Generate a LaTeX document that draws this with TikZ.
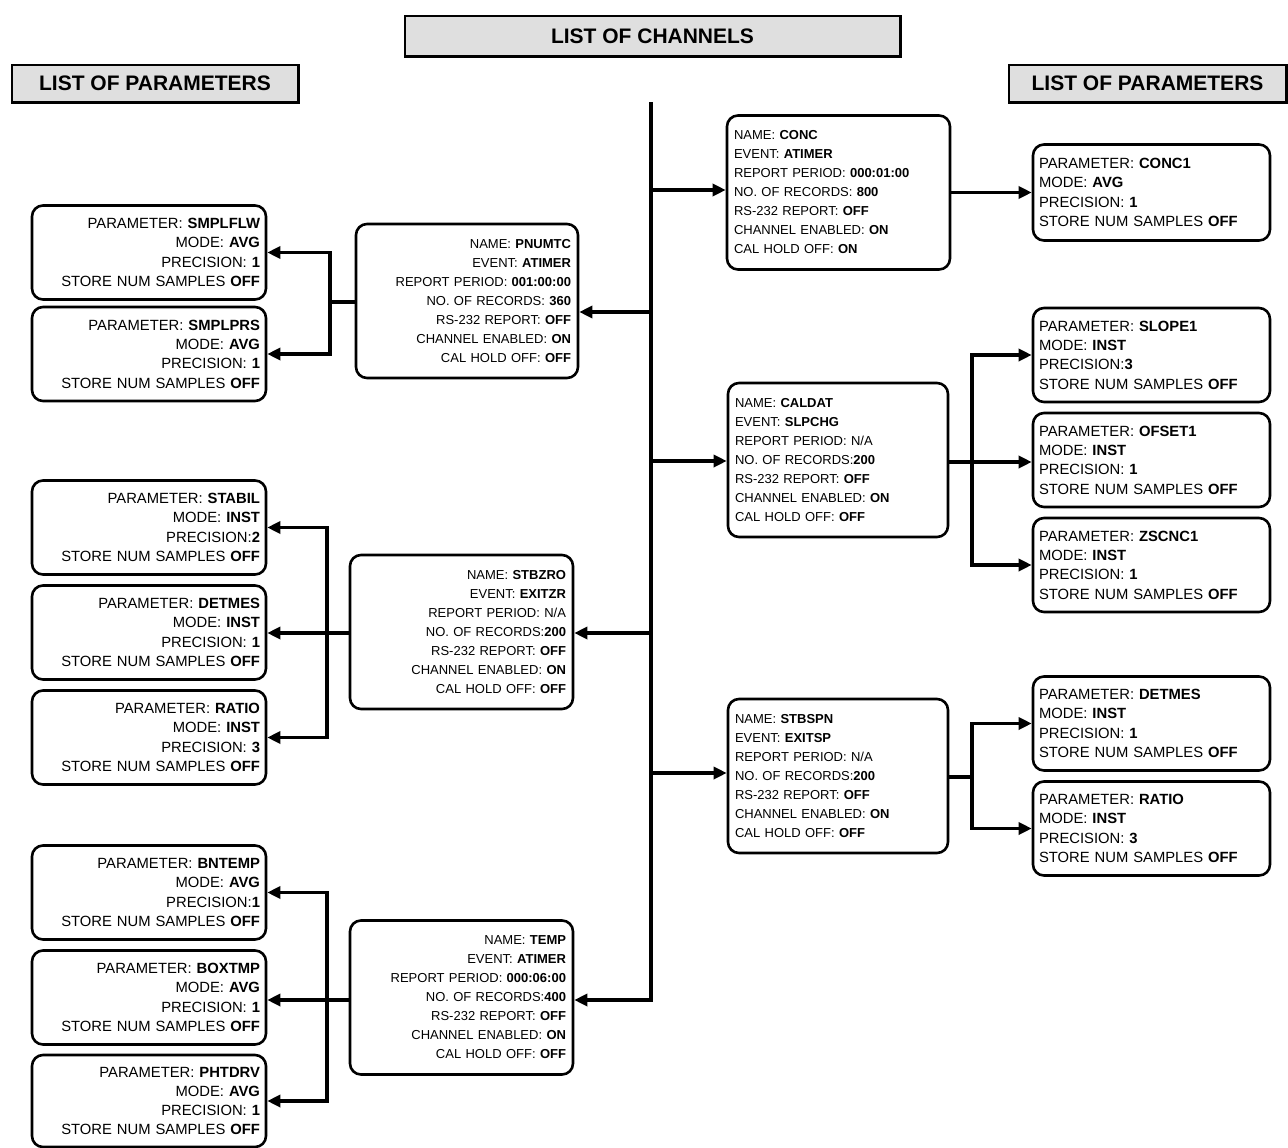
\documentclass[tikz,border=0pt]{standalone}
\usepackage{fontspec}
\setmainfont{Liberation Sans}
\usetikzlibrary{arrows.meta,calc}
\begin{document}
\begin{tikzpicture}[x=1pt,y=-1pt,
  chbox/.style={draw, line width=2.6pt, rounded corners=11pt, minimum height=154pt, inner xsep=7pt, inner ysep=0pt, text width=208pt, font=\fontsize{13}{19}\selectfont},
  chL/.style={chbox, align=left},
  chR/.style={chbox, align=right},
  pbox/.style={draw, line width=2.6pt, rounded corners=11pt, minimum height=94pt, inner xsep=6pt, inner ysep=0pt, font=\fontsize{14.8}{19.3}\selectfont},
  pL/.style={pbox, text width=225pt, align=left},
  pR/.style={pbox, text width=222pt, align=right},
  hdr/.style={draw, line width=1.6pt, fill=gray!25, inner sep=0pt, font=\bfseries\fontsize{21}{24}\selectfont},
  conn/.style={line width=3.4pt},
  arr/.style={conn, -{Triangle[length=13pt,width=12pt]}},
]
\useasboundingbox (0,0) rectangle (1288,1148);
\fill[white] (0,0) rectangle (1288,1148);

% headers
\node[hdr, minimum width=495pt, minimum height=40pt] (hch) at (652.5,36) {LIST OF CHANNELS};
\node[hdr, minimum width=286pt, minimum height=37pt] (hpl) at (155,83.5) {LIST OF PARAMETERS};
\node[hdr, minimum width=277pt, minimum height=37pt] (hpr) at (1147.5,83.5) {LIST OF PARAMETERS};
\foreach \h in {hch,hpl,hpr}{
  \draw[line width=2.8pt] (\h.north east) -- (\h.south east) -- (\h.south west);
}

% channel boxes
\node[chL, text width=209pt] (conc) at (838.5,192.5) {NAME: \textbf{CONC}\\EVENT: \textbf{ATIMER}\\REPORT PERIOD: \textbf{000:01:00}\\NO. OF RECORDS: \textbf{800}\\RS-232 REPORT: \textbf{OFF}\\CHANNEL ENABLED: \textbf{ON}\\CAL HOLD OFF: \textbf{ON}};
\node[chR] (pnumtc) at (467,301) {NAME: \textbf{PNUMTC}\\EVENT: \textbf{ATIMER}\\REPORT PERIOD: \textbf{001:00:00}\\NO. OF RECORDS: \textbf{360}\\RS-232 REPORT: \textbf{OFF}\\CHANNEL ENABLED: \textbf{ON}\\CAL HOLD OFF: \textbf{OFF}};
\node[chL, text width=206pt] (caldat) at (838,460) {NAME: \textbf{CALDAT}\\EVENT: \textbf{SLPCHG}\\REPORT PERIOD: N/A\\NO. OF RECORDS:\textbf{200}\\RS-232 REPORT: \textbf{OFF}\\CHANNEL ENABLED: \textbf{ON}\\CAL HOLD OFF: \textbf{OFF}};
\node[chR, text width=209pt] (stbzro) at (461.5,632) {NAME: \textbf{STBZRO}\\EVENT: \textbf{EXITZR}\\REPORT PERIOD: N/A\\NO. OF RECORDS:\textbf{200}\\RS-232 REPORT: \textbf{OFF}\\CHANNEL ENABLED: \textbf{ON}\\CAL HOLD OFF: \textbf{OFF}};
\node[chL, text width=206pt] (stbspn) at (838,776) {NAME: \textbf{STBSPN}\\EVENT: \textbf{EXITSP}\\REPORT PERIOD: N/A\\NO. OF RECORDS:\textbf{200}\\RS-232 REPORT: \textbf{OFF}\\CHANNEL ENABLED: \textbf{ON}\\CAL HOLD OFF: \textbf{OFF}};
\node[chR, text width=209pt] (temp) at (461.5,997.5) {NAME: \textbf{TEMP}\\EVENT: \textbf{ATIMER}\\REPORT PERIOD: \textbf{000:06:00}\\NO. OF RECORDS:\textbf{400}\\RS-232 REPORT: \textbf{OFF}\\CHANNEL ENABLED: \textbf{ON}\\CAL HOLD OFF: \textbf{OFF}};

% parameter boxes right
\node[pL, minimum height=96pt] (conc1) at (1151.5,192.5) {PARAMETER: \textbf{CONC1}\\MODE: \textbf{AVG}\\PRECISION: \textbf{1}\\STORE NUM SAMPLES \textbf{OFF}};
\node[pL] (slope1) at (1151.5,355) {PARAMETER: \textbf{SLOPE1}\\MODE: \textbf{INST}\\PRECISION:\textbf{3}\\STORE NUM SAMPLES \textbf{OFF}};
\node[pL] (ofset1) at (1151.5,460) {PARAMETER: \textbf{OFSET1}\\MODE: \textbf{INST}\\PRECISION: \textbf{1}\\STORE NUM SAMPLES \textbf{OFF}};
\node[pL] (zscnc1) at (1151.5,565) {PARAMETER: \textbf{ZSCNC1}\\MODE: \textbf{INST}\\PRECISION: \textbf{1}\\STORE NUM SAMPLES \textbf{OFF}};
\node[pL] (detmesR) at (1151.5,723.5) {PARAMETER: \textbf{DETMES}\\MODE: \textbf{INST}\\PRECISION: \textbf{1}\\STORE NUM SAMPLES \textbf{OFF}};
\node[pL] (ratioR) at (1151.5,828.5) {PARAMETER: \textbf{RATIO}\\MODE: \textbf{INST}\\PRECISION: \textbf{3}\\STORE NUM SAMPLES \textbf{OFF}};

% parameter boxes left
\node[pR] (smplflw) at (149,252.5) {PARAMETER: \textbf{SMPLFLW}\\MODE: \textbf{AVG}\\PRECISION: \textbf{1}\\STORE NUM SAMPLES \textbf{OFF}};
\node[pR] (smplprs) at (149,354) {PARAMETER: \textbf{SMPLPRS}\\MODE: \textbf{AVG}\\PRECISION: \textbf{1}\\STORE NUM SAMPLES \textbf{OFF}};
\node[pR] (stabil) at (149,527.5) {PARAMETER: \textbf{STABIL}\\MODE: \textbf{INST}\\PRECISION:\textbf{2}\\STORE NUM SAMPLES \textbf{OFF}};
\node[pR] (detmesL) at (149,632.5) {PARAMETER: \textbf{DETMES}\\MODE: \textbf{INST}\\PRECISION: \textbf{1}\\STORE NUM SAMPLES \textbf{OFF}};
\node[pR] (ratioL) at (149,737.5) {PARAMETER: \textbf{RATIO}\\MODE: \textbf{INST}\\PRECISION: \textbf{3}\\STORE NUM SAMPLES \textbf{OFF}};
\node[pR] (bntemp) at (149,892.5) {PARAMETER: \textbf{BNTEMP}\\MODE: \textbf{AVG}\\PRECISION:\textbf{1}\\STORE NUM SAMPLES \textbf{OFF}};
\node[pR] (boxtmp) at (149,997.5) {PARAMETER: \textbf{BOXTMP}\\MODE: \textbf{AVG}\\PRECISION: \textbf{1}\\STORE NUM SAMPLES \textbf{OFF}};
\node[pR, minimum height=92pt] (phtdrv) at (149,1101) {PARAMETER: \textbf{PHTDRV}\\MODE: \textbf{AVG}\\PRECISION: \textbf{1}\\STORE NUM SAMPLES \textbf{OFF}};

% bus
\coordinate (bt) at (651,102);
\coordinate (bb) at (651,1000);
\draw[arr] (bt) -- (bb) -- (bb -| temp.east);
\coordinate (j1) at (651,190);
\coordinate (j2) at (651,312);
\coordinate (j3) at (651,461);
\coordinate (j4) at (651,633);
\coordinate (j5) at (651,773);
\draw[arr] (j1) -- (j1 -| conc.west);
\draw[arr] (j2) -- (j2 -| pnumtc.east);
\draw[arr] (j3) -- (j3 -| caldat.west);
\draw[arr] (j4) -- (j4 -| stbzro.east);
\draw[arr] (j5) -- (j5 -| stbspn.west);

% conc -> conc1
\draw[arr] (conc.east) -- (conc.east -| conc1.west);

% forks left
\coordinate (f1) at (330,302);
\draw[conn] (f1 -| pnumtc.west) -- (f1);
\draw[arr] (f1) |- (smplflw.east);
\draw[arr] (f1) |- (smplprs.east);

\coordinate (f2) at (327,633);
\draw[arr] (f2 -| stbzro.west) -- (f2 -| detmesL.east);
\draw[arr] (f2) |- (stabil.east);
\draw[arr] (f2) |- (ratioL.east);

\coordinate (f3) at (327,1000);
\draw[arr] (f3 -| temp.west) -- (f3 -| boxtmp.east);
\draw[arr] (f3) |- (bntemp.east);
\draw[arr] (f3) |- (phtdrv.east);

% forks right
\coordinate (f4) at (972,462);
\draw[arr] (f4 -| caldat.east) -- (f4 -| ofset1.west);
\draw[arr] (f4) |- (slope1.west);
\draw[arr] (f4) |- (zscnc1.west);

\coordinate (f5) at (972,777);
\draw[conn] (f5 -| stbspn.east) -- (f5);
\draw[arr] (f5) |- (detmesR.west);
\draw[arr] (f5) |- (ratioR.west);
\end{tikzpicture}
\end{document}
